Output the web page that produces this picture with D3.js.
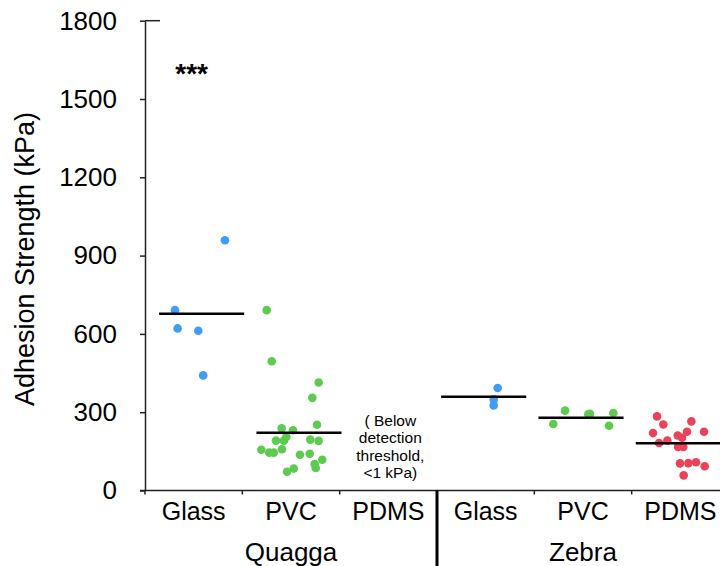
<!DOCTYPE html>
<html>
<head>
<meta charset="utf-8">
<script src="https://cdn.jsdelivr.net/npm/d3@7"></script>
<style>
  body { margin: 0; background: #fff; }
  text { font-family: "Liberation Sans", Arial, Helvetica, sans-serif; fill: #000; }
</style>
</head>
<body>
<div id="chart"></div>
<script>
// 1: DATA
const species = ["Quagga", "Zebra"];
const surfaces = ["Glass", "PVC", "PDMS"];
const yTicks = [0, 300, 600, 900, 1200, 1500, 1800];

// adhesion strength (kPa) per group; jitter = horizontal spread as a fraction of band
const quaggaGlass = [691, 621, 612, 441, 959];
const quaggaGlassJitter = [-0.274, -0.247, -0.035, 0.016, 0.239];
const quaggaPVC = [691, 495, 414, 355, 252, 238, 231, 206, 191, 191, 195, 190,
                   156, 145, 145, 158, 137, 141, 118, 101, 86, 84, 72];
const quaggaPVCJitter = [-0.332, -0.280, 0.202, 0.137, 0.185, -0.178, -0.062, -0.130, -0.154, -0.236, 0.116, 0.202,
                         -0.387, -0.305, -0.260, -0.175, 0.010, 0.110, 0.239, 0.161, 0.172, -0.054, -0.123];
const zebraGlass = [393, 349, 326];
const zebraGlassJitter = [0.144, 0.103, 0.103];
const zebraPVC = [306, 255, 292, 294, 297, 248];
const zebraPVCJitter = [-0.164, -0.285, 0.075, 0.092, 0.332, 0.288];
const zebraPDMS = [284, 253, 220, 182, 191, 211, 202, 225, 265, 225, 167, 167, 104, 105, 108, 93, 58];
const zebraPDMSJitter = [-0.219, -0.154, -0.260, -0.198, -0.113, -0.006, 0.038, 0.089, 0.134, 0.264,
                         -0.003, 0.051, 0.017, 0.103, 0.182, 0.271, 0.055];

// group mean lines (kPa)
const meanLines = [
  { sp: "Quagga", surf: "Glass", v: 677 },
  { sp: "Quagga", surf: "PVC", v: 221 },
  { sp: "Zebra", surf: "Glass", v: 359 },
  { sp: "Zebra", surf: "PVC", v: 279 },
  { sp: "Zebra", surf: "PDMS", v: 181 }
];

const colors = { Glass: "#3f9df4", PVC: "#5ccb4f", PDMS: "#ea4359" };

const groups = [
  { sp: "Quagga", surf: "Glass", vals: quaggaGlass, jit: quaggaGlassJitter },
  { sp: "Quagga", surf: "PVC", vals: quaggaPVC, jit: quaggaPVCJitter },
  { sp: "Zebra", surf: "Glass", vals: zebraGlass, jit: zebraGlassJitter },
  { sp: "Zebra", surf: "PVC", vals: zebraPVC, jit: zebraPVCJitter },
  { sp: "Zebra", surf: "PDMS", vals: zebraPDMS, jit: zebraPDMSJitter }
];
const points = groups.flatMap(g => g.vals.map((v, i) => ({ sp: g.sp, surf: g.surf, v: v, j: g.jit[i] })));

// 2: LAYOUT
const W = 720, H = 566;
const svg = d3.select("#chart").append("svg").attr("width", W).attr("height", H);

const cats = species.flatMap(s => surfaces.map(t => s + "|" + t));
const x = d3.scaleBand().domain(cats).range([145, 729]).padding(0);
const y = d3.scaleLinear().domain([0, 1800]).range([490.5, 20.7]);
const bw = x.bandwidth();
// the dot clouds sit a little off the label centres in the original
const shift = { Quagga: 8, Zebra: -2 };
const cx = d => x(d.sp + "|" + d.surf) + bw / 2 + shift[d.sp];

// 3: AXES
const yAxis = svg.append("g")
  .attr("transform", "translate(145,0)")
  .call(d3.axisLeft(y).tickValues(yTicks).tickFormat(d3.format("d"))
    .tickSize(5).tickPadding(23).tickSizeOuter(0));
yAxis.select(".domain").attr("stroke", "#222").attr("stroke-width", 1.5);
yAxis.selectAll(".tick line").attr("stroke", "#222").attr("stroke-width", 1.5);
yAxis.selectAll(".tick text").style("font-size", "26px").attr("fill", "#000");

// short cap at the top of the y axis
svg.append("line")
  .attr("x1", 145).attr("x2", 160)
  .attr("y1", y(1800)).attr("y2", y(1800))
  .attr("stroke", "#222").attr("stroke-width", 1.5);

// x axis line with ticks at band boundaries
svg.append("line")
  .attr("x1", 140).attr("x2", W)
  .attr("y1", y(0)).attr("y2", y(0))
  .attr("stroke", "#222").attr("stroke-width", 1.5);

const bounds = cats.map(c => x(c)).filter((b, i) => i !== 3);
svg.selectAll(".xtick").data(bounds).enter().append("line")
  .attr("class", "xtick")
  .attr("x1", d => d).attr("x2", d => d)
  .attr("y1", y(0)).attr("y2", y(0) + 4)
  .attr("stroke", "#222").attr("stroke-width", 1.5);

// divider between species
svg.append("line")
  .attr("x1", x("Zebra|Glass")).attr("x2", x("Zebra|Glass"))
  .attr("y1", y(0)).attr("y2", H)
  .attr("stroke", "#000").attr("stroke-width", 3);

// category labels
svg.selectAll(".cat").data(cats).enter().append("text")
  .attr("class", "cat")
  .attr("x", d => x(d) + bw / 2)
  .attr("y", 520)
  .attr("text-anchor", "middle")
  .style("font-size", "25px")
  .text(d => d.split("|")[1]);

// species labels
svg.selectAll(".sp").data(species).enter().append("text")
  .attr("class", "sp")
  .attr("x", d => d === "Quagga" ? (x("Quagga|Glass") + x("Zebra|Glass")) / 2 : x("Zebra|PVC") + bw / 2)
  .attr("y", 561)
  .attr("text-anchor", "middle")
  .style("font-size", "26px")
  .text(d => d);

// y axis title
svg.append("text")
  .attr("transform", "translate(34,259) rotate(-90)")
  .attr("text-anchor", "middle")
  .style("font-size", "27px")
  .text("Adhesion Strength (kPa)");

// 4: MARKS
svg.selectAll(".dot").data(points).enter().append("circle")
  .attr("class", "dot")
  .attr("cx", d => cx(d) + d.j * bw)
  .attr("cy", d => y(d.v))
  .attr("r", 4.3)
  .attr("fill", d => colors[d.surf]);

svg.selectAll(".mean").data(meanLines).enter().append("line")
  .attr("class", "mean")
  .attr("x1", d => cx(d) - 0.437 * bw)
  .attr("x2", d => cx(d) + 0.437 * bw)
  .attr("y1", d => y(d.v)).attr("y2", d => y(d.v))
  .attr("stroke", "#000").attr("stroke-width", 2.5);

// 5: ANNOTATIONS
svg.append("text")
  .attr("x", x("Quagga|Glass") + bw / 2 - 2)
  .attr("y", 83)
  .attr("text-anchor", "middle")
  .style("font-size", "28px")
  .style("font-weight", "bold")
  .text("***");

const note = ["( Below", "detection", "threshold,", "<1 kPa)"];
svg.selectAll(".note").data(note).enter().append("text")
  .attr("class", "note")
  .attr("x", x("Quagga|PDMS") + bw / 2 + 2)
  .attr("y", (d, i) => 426 + i * 17.3)
  .attr("text-anchor", "middle")
  .style("font-size", "15.5px")
  .text(d => d);
</script>
</body>
</html>
